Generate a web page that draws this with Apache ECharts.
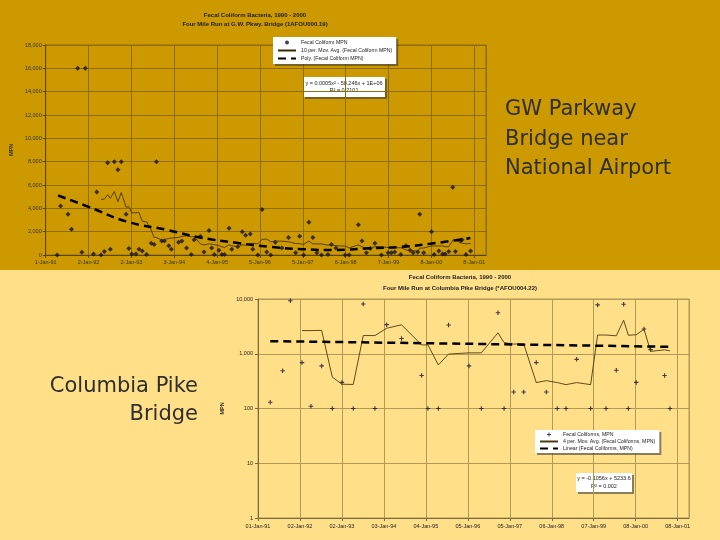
<!DOCTYPE html>
<html><head><meta charset="utf-8">
<script src="https://cdn.jsdelivr.net/npm/echarts@6/dist/echarts.min.js"></script>
<style>html,body{margin:0;padding:0;background:#FFDF88}#c{width:720px;height:540px}</style>
</head><body><div id="c"></div>
<script>
// ---- Data (x = days since 1-Jan-91) ----
const topTickLabels = ['1-Jan-91','2-Jan-92','2-Jan-93','3-Jan-94','4-Jan-95','5-Jan-96','5-Jan-97','6-Jan-98','7-Jan-99','8-Jan-00','8-Jan-01'];
const botTickLabels = ['01-Jan-91','02-Jan-92','02-Jan-93','03-Jan-94','04-Jan-95','05-Jan-96','05-Jan-97','06-Jan-98','07-Jan-99','08-Jan-00','08-Jan-01'];

const topDays = [98,127,191,220,273,309,338,408,436,473,501,529,552,586,617,645,687,710,735,771,797,825,862,901,926,946,991,1014,1051,1073,1135,1163,1203,1243,1268,1321,1352,1395,1417,1440,1479,1505,1527,1566,1589,1640,1679,1707,1747,1769,1812,1848,1888,1922,1961,2017,2074,2135,2169,2203,2248,2282,2316,2355,2411,2440,2479,2558,2592,2671,2702,2739,2772,2812,2868,2925,2953,2981,3032,3077,3113,3139,3178,3195,3229,3296,3318,3358,3390,3412,3443,3477,3500,3545,3556,3590,3629];
const topMPN  = [0,4200,3500,2200,16000,230,16000,80,5400,0,300,7900,500,8000,7300,8000,3500,550,80,80,500,350,50,1000,900,8000,1200,1200,800,500,1100,1200,600,50,1300,1600,250,2100,600,50,400,50,50,2300,500,700,2000,1700,1800,500,0,3900,250,0,1100,600,1500,200,1600,0,2800,1500,200,0,50,900,600,0,0,2600,1200,200,550,1000,0,200,200,250,50,800,400,200,250,3500,200,2000,50,350,80,80,300,5800,300,1250,1300,50,350];

const topPolyDays = [106,360,698,1036,1318,1627,1909,2190,2469,2754,3035,3314,3627];
const topPolyMPN  = [5100,4150,2850,2150,1500,1050,700,500,430,570,700,1000,1450];

const botDays = [107,215,282,384,462,555,648,732,831,918,1020,1122,1252,1427,1482,1573,1662,1840,1948,2093,2146,2230,2317,2427,2515,2610,2686,2779,2901,2962,3035,3125,3189,3230,3299,3367,3424,3546,3593];
const botMPN  = [130,490,9300,690,110,600,100,300,100,8100,100,3400,1900,400,100,100,3350,600,100,5600,100,200,200,690,200,100,100,790,100,7800,100,500,8000,100,300,2830,1190,400,100];

const botLinDays = [107,1840,3593];
const botLinMPN  = [1700,1520,1340];

// ---- helpers ----
function movingAvg(xs, ys, n){ const out=[]; for(let i=n-1;i<ys.length;i++){let s=0; for(let k=i-n+1;k<=i;k++) s+=ys[k]; out.push([xs[i], s/n]);} return out; }
function zip(a,b){ return a.map((v,i)=>[v,b[i]]); }
function fmtNum(v){ return String(Math.round(v)).replace(/\B(?=(\d{3})+(?!\d))/g, ','); }
function dateFmt(labels){ return v => { const i=Math.round(v/366); return (Math.abs(v-i*366)<0.5 && labels[i]) ? labels[i] : ''; }; }

const GOLD='#CC9900', LIGHT='#FFDF88';
const FF='"Liberation Sans", Arial, sans-serif';
const topGridC='#8E6C0C', botGridC='#B09A58';
const PLUS='path://M3,0H5V3H8V5H5V8H3V5H0V3H3Z';

const n1='Fecal Coliform MPN', n2='10 per. Mov. Avg. (Fecal Coliform MPN)', n3='Poly. (Fecal Coliform MPN)';
const m1='Fecal Coliforms, MPN', m2='4 per. Mov. Avg. (Fecal Coliforms, MPN)', m3='Linear (Fecal Coliforms, MPN)';
const HIDE={color:'rgba(0,0,0,0)', borderColor:'rgba(0,0,0,0)', borderWidth:0};

function eqBox(x,y,w,h,text){
  return {type:'group', x:x, y:y, children:[
    {type:'rect', shape:{x:2,y:2,width:w,height:h}, style:{fill:'rgba(60,60,60,0.6)'}},
    {type:'rect', shape:{x:0,y:0,width:w,height:h}, style:{fill:'#fff'}},
    {type:'text', x:w/2, y:h/2, style:{text:text, fontSize:5.5, fontFamily:FF, fill:'#222', align:'center', verticalAlign:'middle', lineHeight:7.5}}
  ]};
}

const chart = echarts.init(document.getElementById('c'), null, {renderer:'canvas'});
chart.setOption({
  backgroundColor: LIGHT,
  animation:false,
  textStyle:{fontFamily:FF},
  title:[
    {text:'Fecal Coliform Bacteria, 1990 - 2000\nFour Mile Run at G.W. Pkwy. Bridge (1AFOU000.19)', left:255, top:10.5, padding:0, textAlign:'center',
     textStyle:{fontSize:6, fontWeight:'bold', color:'#222', lineHeight:9, fontFamily:FF}},
    {text:'Fecal Coliform Bacteria, 1990 - 2000\nFour Mile Run at Columbia Pike Bridge (*AFOU004.22)', left:460, top:272.5, padding:0, textAlign:'center',
     textStyle:{fontSize:6, fontWeight:'bold', color:'#222', lineHeight:10.5, fontFamily:FF}}
  ],
  graphic:[
    {type:'rect', z:-100, silent:true, shape:{x:0,y:0,width:720,height:270}, style:{fill:GOLD}},
    {type:'text', x:505, y:95, style:{text:'GW Parkway\nBridge near\nNational Airport', font:'21px "DejaVu Sans"', fill:'#2e2e2e', lineHeight:29.5, verticalAlign:'top'}},
    {type:'text', x:198, y:372, style:{text:'Columbia Pike\nBridge', font:'21px "DejaVu Sans"', fill:'#2e2e2e', lineHeight:28.5, align:'right', verticalAlign:'top'}},
    eqBox(303,77,82,20,'y = 0.0005x\u00B2 - 50.246x + 1E+06\nR\u00B2 = 0.2101'),
    eqBox(576,473,56,19,'y = -0.1056x + 5233.6\nR\u00B2 = 0.002')
  ],
  legend:[
    {data:[{name:n1, icon:'circle'}, {name:n2, itemStyle:HIDE}, {name:n3, itemStyle:HIDE}],
     left:273, top:37, orient:'vertical', backgroundColor:'#fff', padding:[3,4,3,4], itemGap:3, itemWidth:18, itemHeight:4,
     selectedMode:false, textStyle:{fontSize:5.2, color:'#222', fontFamily:FF},
     shadowColor:'rgba(60,60,60,0.6)', shadowOffsetX:2, shadowOffsetY:2, shadowBlur:0},
    {data:[{name:m1, icon:PLUS}, {name:m2, itemStyle:HIDE}, {name:m3, itemStyle:HIDE}],
     left:535, top:430, orient:'vertical', backgroundColor:'#fff', padding:[2,4,2,4], itemGap:2, itemWidth:18, itemHeight:4,
     selectedMode:false, textStyle:{fontSize:5.2, color:'#222', fontFamily:FF},
     shadowColor:'rgba(60,60,60,0.6)', shadowOffsetX:2, shadowOffsetY:2, shadowBlur:0}
  ],
  grid:[
    {left:41, top:45, width:445, height:210, show:true, borderColor:topGridC, borderWidth:1, backgroundColor:'transparent'},
    {left:258, top:299, width:431, height:219, show:true, borderColor:botGridC, borderWidth:1, backgroundColor:'transparent'}
  ],
  xAxis:[
    {gridIndex:0, type:'value', min:0, max:3761, interval:366,
     axisLine:{show:true, lineStyle:{color:'#5a4500', width:1}}, axisTick:{show:true, length:3, lineStyle:{color:'#5a4500'}},
     axisLabel:{fontSize:5.5, color:'#333', margin:4, formatter:dateFmt(topTickLabels), showMaxLabel:false},
     splitLine:{show:true, lineStyle:{color:topGridC, width:1}}},
    {gridIndex:1, type:'value', min:0, max:3759, interval:366,
     axisLine:{show:true, lineStyle:{color:'#7a6a40', width:1}}, axisTick:{show:true, length:3, lineStyle:{color:'#7a6a40'}},
     axisLabel:{fontSize:5.5, color:'#222', margin:5, formatter:dateFmt(botTickLabels), showMaxLabel:false},
     splitLine:{show:true, lineStyle:{color:botGridC, width:1}}}
  ],
  yAxis:[
    {gridIndex:0, type:'value', min:0, max:18000, interval:2000, name:'MPN', nameLocation:'middle', nameGap:27,
     nameTextStyle:{fontSize:5.5, fontWeight:'bold', color:'#333'},
     axisLine:{show:true, lineStyle:{color:'#5a4500'}}, axisTick:{show:true, length:3, lineStyle:{color:'#5a4500'}},
     axisLabel:{fontSize:5.5, color:'#333', margin:4, formatter:fmtNum},
     splitLine:{show:true, lineStyle:{color:topGridC, width:1}}},
    {gridIndex:1, type:'log', logBase:10, min:1, max:10000, name:'MPN', nameLocation:'middle', nameGap:27,
     nameTextStyle:{fontSize:5.5, fontWeight:'bold', color:'#333'},
     axisLine:{show:true, lineStyle:{color:'#7a6a40'}}, axisTick:{show:true, length:3, lineStyle:{color:'#7a6a40'}},
     axisLabel:{fontSize:5.5, color:'#222', margin:5, formatter:fmtNum},
     splitLine:{show:true, lineStyle:{color:botGridC, width:1}}}
  ],
  series:[
    {name:n1, type:'scatter', xAxisIndex:0, yAxisIndex:0, data:zip(topDays, topMPN), symbol:'diamond', symbolSize:5, itemStyle:{color:'#14123c'}},
    {name:n2, type:'line', xAxisIndex:0, yAxisIndex:0, data:movingAvg(topDays, topMPN, 10), symbol:'none', lineStyle:{width:0.8, color:'#3a2800'}, itemStyle:{color:'#3a2800'}},
    {name:n3, type:'line', xAxisIndex:0, yAxisIndex:0, data:zip(topPolyDays, topPolyMPN), smooth:true, symbol:'none', lineStyle:{width:2.5, color:'#000', type:[8,5]}, itemStyle:{color:'#000'}},
    {name:m1, type:'scatter', xAxisIndex:1, yAxisIndex:1, data:zip(botDays, botMPN), symbol:PLUS, symbolSize:4.5, itemStyle:{color:'#14123c'}},
    {name:m2, type:'line', xAxisIndex:1, yAxisIndex:1, data:movingAvg(botDays, botMPN, 4), symbol:'none', lineStyle:{width:0.9, color:'#4a3c10'}, itemStyle:{color:'#7a7a7a'}},
    {name:m3, type:'line', xAxisIndex:1, yAxisIndex:1, data:zip(botLinDays, botLinMPN), symbol:'none', lineStyle:{width:2.5, color:'#000', type:[8,5]}, itemStyle:{color:'#000'}}
  ]
});
</script></body></html>
